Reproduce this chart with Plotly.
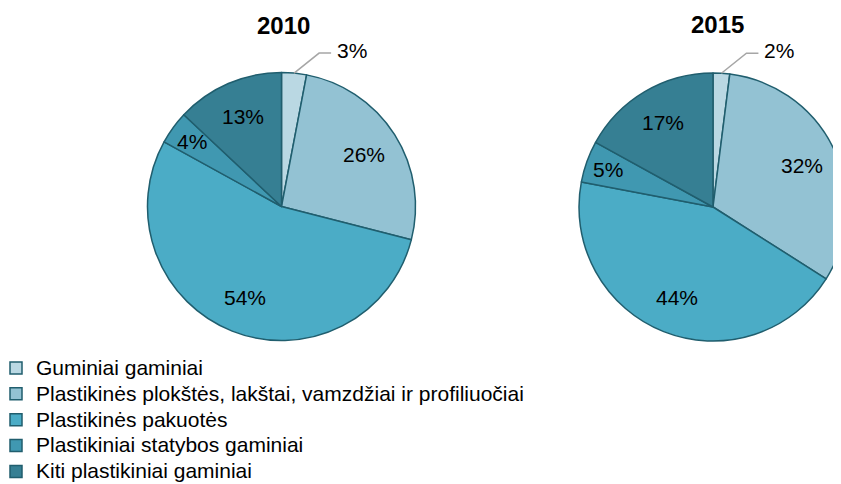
import math
import plotly.graph_objects as go

W, H = 841, 484
OFF = 8  # page body margin: figure is drawn 8px right and down in the window

categories = [
    "Guminiai gaminiai",
    "Plastikinės plokštės, lakštai, vamzdžiai ir profiliuočiai",
    "Plastikinės pakuotės",
    "Plastikiniai statybos gaminiai",
    "Kiti plastikiniai gaminiai",
]
years = ["2010", "2015"]
values_2010 = [3, 26, 54, 4, 13]
values_2015 = [2, 32, 44, 5, 17]

colors = ["#BAD8E3", "#93C2D3", "#4BACC6", "#4098B1", "#367F93"]
border = "#205E6E"
FONT = "Liberation Sans, Arial, sans-serif"

# legend labels: larger glyphs than the row spacing font
legend_labels = ['<span style="font-size:21px">%s</span>' % c for c in categories]

# pie geometry (window pixels)
R = 134
pies = [
    dict(year=years[0], vals=values_2010, cx=281.5, cy=206.5, tx=283.5, ty=25),
    dict(year=years[1], vals=values_2015, cx=713.0, cy=207.0, tx=717.0, ty=24),
]

def px(x):
    return (x - OFF) / W

def py(y):
    return 1 - (y - OFF) / H

fig = go.Figure()
annotations = []
shapes = []

for i, p in enumerate(pies):
    cx, cy = p["cx"], p["cy"]
    fig.add_trace(go.Pie(
        labels=legend_labels,
        values=p["vals"],
        sort=False,
        direction="clockwise",
        rotation=0,
        marker=dict(colors=colors, line=dict(color=border, width=1.5)),
        textinfo="none",
        hoverinfo="label+percent",
        showlegend=(i == 0),
        domain=dict(x=[px(cx - R), min(1.0, px(cx + R))],
                    y=[py(cy + R), py(cy - R)]),
        name=p["year"],
    ))
    annotations.append(dict(
        text="<b>%s</b>" % p["year"], x=px(p["tx"]), y=py(p["ty"]),
        xref="paper", yref="paper", xanchor="center", yanchor="middle",
        showarrow=False,
        font=dict(family=FONT, size=24, color="#000000"),
    ))
    total = float(sum(p["vals"]))
    cum = 0.0
    for v in p["vals"]:
        mid = (cum + v / 2) / total * 2 * math.pi
        cum += v
        pct = "%d%%" % round(v / total * 100)
        sx, sy = math.sin(mid), -math.cos(mid)
        if v / total < 0.035:
            # leader line label
            x0, y0 = cx + R * sx, cy + R * sy
            x1, y1 = x0 + 25, y0 - 20
            x2 = x1 + 12
            shapes.append(dict(
                type="path", xref="paper", yref="paper",
                path="M %f,%f L %f,%f L %f,%f" % (px(x0), py(y0), px(x1), py(y1), px(x2), py(y1)),
                line=dict(color="#A6A6A6", width=1.5),
            ))
            annotations.append(dict(
                text=pct, x=px(x2 + 4), y=py(y1 - 3), xref="paper", yref="paper",
                xanchor="left", yanchor="middle", showarrow=False,
                font=dict(family=FONT, size=21, color="#000000"),
            ))
        else:
            f = 0.73 if v / total >= 0.10 else 0.83
            annotations.append(dict(
                text=pct, x=px(cx + f * R * sx), y=py(cy + f * R * sy),
                xref="paper", yref="paper", xanchor="center", yanchor="middle",
                showarrow=False, font=dict(family=FONT, size=21, color="#000000"),
            ))

fig.update_layout(
    width=W, height=H,
    margin=dict(l=0, r=0, t=0, b=0, autoexpand=False),
    paper_bgcolor="#FFFFFF", plot_bgcolor="#FFFFFF",
    font=dict(family=FONT, size=18, color="#000000"),
    showlegend=True,
    legend=dict(
        x=px(-4), y=py(350), xanchor="left", yanchor="top",
        font=dict(family=FONT, size=17.6, color="#000000"),
        itemwidth=30, traceorder="normal", bgcolor="rgba(0,0,0,0)",
        tracegroupgap=0,
    ),
    annotations=annotations,
    shapes=shapes,
)

fig.write_html("out.html")
